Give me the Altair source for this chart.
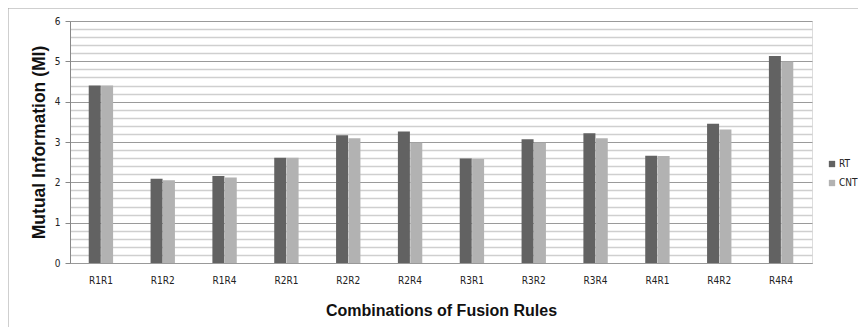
import altair as alt
import pandas as pd

categories = ["R1R1", "R1R2", "R1R4", "R2R1", "R2R2", "R2R4",
              "R3R1", "R3R2", "R3R4", "R4R1", "R4R2", "R4R4"]
rt_values = [4.40, 2.09, 2.16, 2.61, 3.17, 3.26, 2.59, 3.07, 3.22, 2.66, 3.45, 5.13]
cnt_values = [4.40, 2.05, 2.12, 2.61, 3.09, 2.98, 2.58, 2.98, 3.09, 2.65, 3.31, 4.99]
series = ["RT", "CNT"]
colors = ["#626262", "#b2b2b2"]
y_ticks = [0, 0.2, 0.4, 0.6, 0.8, 1, 1.2, 1.4, 1.6, 1.8, 2, 2.2, 2.4, 2.6, 2.8,
           3, 3.2, 3.4, 3.6, 3.8, 4, 4.2, 4.4, 4.6, 4.8, 5, 5.2, 5.4, 5.6, 5.8, 6]

rows = []
for c, r, n in zip(categories, rt_values, cnt_values):
    rows.append({"combo": c, "series": "RT", "value": r})
    rows.append({"combo": c, "series": "CNT", "value": n})
df = pd.DataFrame(rows)

W, H = 742, 242
font = "Liberation Sans"
narrow = "DejaVu Sans Condensed, Liberation Sans Narrow, Liberation Sans"

bars = alt.Chart(df).mark_bar(size=12).encode(
    x=alt.X("combo:N", sort=categories,
            scale=alt.Scale(paddingInner=0.6, paddingOuter=0.3),
            axis=alt.Axis(title="Combinations of Fusion Rules", labelAngle=0,
                          labelFont=narrow, labelFontSize=10, labelColor="#222",
                          labelPadding=12, ticks=False, domainColor="#999",
                          titleFont=font, titleFontSize=16, titleFontWeight="bold",
                          titleColor="#111", titlePadding=17)),
    xOffset=alt.XOffset("series:N", sort=series, scale=alt.Scale(paddingInner=0, paddingOuter=0)),
    y=alt.Y("value:Q", scale=alt.Scale(domain=[0, 6], nice=False),
            axis=alt.Axis(title="Mutual Information (MI)", values=y_ticks,
                          labelExpr="datum.value % 1 === 0 ? format(datum.value, 'd') : ''",
                          labelOverlap=False,
                          labelFont=narrow, labelFontSize=10, labelColor="#222",
                          labelPadding=5, tickSize=5,
                          tickOpacity={"condition": {"test": "datum.value % 1 === 0", "value": 1}, "value": 0},
                          tickColor="#888", domainColor="#888",
                          gridColor={"condition": {"test": "datum.value % 1 === 0", "value": "#9a9a9a"}, "value": "#cfcfcf"},
                          gridWidth={"condition": {"test": "datum.value % 1 === 0", "value": 1}, "value": 1.5},
                          titleFont=font, titleFontSize=17.5, titleFontWeight="bold",
                          titleColor="#111", titlePadding=6)),
    color=alt.Color("series:N", sort=series,
                    scale=alt.Scale(domain=series, range=colors),
                    legend=alt.Legend(title=None, orient="none", legendX=757, legendY=138,
                                      symbolType="square", symbolSize=40, symbolStrokeWidth=0,
                                      labelFont=narrow, labelFontSize=10, labelColor="#222",
                                      labelOffset=2, rowPadding=9)),
)

frame = alt.Chart(pd.DataFrame({"a": [0]})).mark_rect(
    fill=None, stroke="#a0a0a0", strokeWidth=1
).encode(x=alt.value(-62), x2=alt.value(900), y=alt.value(-13), y2=alt.value(400))

chart = alt.layer(frame, bars).properties(
    width=W, height=H,
    autosize=alt.AutoSizeParams(type="none"),
    padding={"left": 62, "top": 13, "right": 46, "bottom": 64},
).configure_view(stroke=None).configure(background="white")

chart.save("out.html", embed_options={"renderer": "svg", "actions": False})
